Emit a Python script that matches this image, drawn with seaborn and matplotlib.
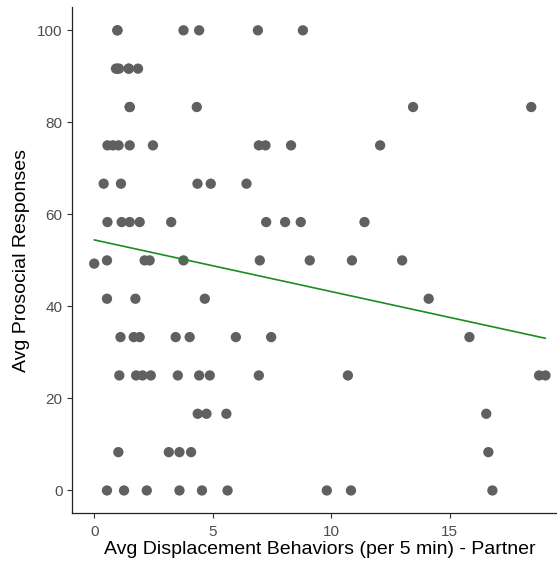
import matplotlib
matplotlib.use("Agg")
import matplotlib.pyplot as plt
import seaborn as sns
import pandas as pd
import numpy as np

# Avg displacement behaviours (x) and avg prosocial responses (y), read row by row
# (a few points sit exactly on top of others in the dense low-x clusters)
x_displacement = [
    0.98, 0.98, 3.77, 4.43, 6.91, 8.81,
    0.92, 0.98, 1.05, 1.46, 1.46, 1.85,
    1.50, 1.50, 4.33, 13.46, 18.45,
    0.56, 0.79, 1.03, 1.50, 2.48, 6.95, 7.23, 8.31, 12.07,
    0.40, 1.13, 4.36, 4.92, 6.43,
    0.56, 1.16, 1.50, 1.92, 3.25, 7.26, 8.06, 8.72, 11.41,
    0.54, 2.13, 2.34, 3.77, 6.99, 9.10, 10.88, 13.00, 0.00,
    0.54, 1.74, 4.67, 14.12,
    1.11, 1.67, 1.92, 3.44, 4.03, 5.98, 7.47, 15.84,
    1.06, 1.77, 2.04, 2.39, 3.53, 4.43, 4.88, 6.95, 10.71, 18.78, 19.05,
    4.37, 4.74, 5.58, 16.55,
    1.02, 3.15, 3.60, 4.09, 16.64,
    0.54, 1.26, 2.22, 3.60, 4.55, 5.63, 9.82, 10.84, 16.81,
]
y_prosocial = (
    [100.0] * 6
    + [91.67] * 6
    + [83.33] * 5
    + [75.0] * 9
    + [66.67] * 5
    + [58.33] * 9
    + [50.0] * 8 + [49.3]
    + [41.67] * 4
    + [33.33] * 8
    + [25.0] * 11
    + [16.67] * 4
    + [8.33] * 5
    + [0.0] * 9
)

x_ticks = [0, 5, 10, 15]
y_ticks = [0, 20, 40, 60, 80, 100]
x_label = "Avg Displacement Behaviors (per 5 min) - Partner"
y_label = "Avg Prosocial Responses"

df = pd.DataFrame({"x": x_displacement, "y": y_prosocial})

sns.set_theme(style="ticks")
plt.rcParams["font.family"] = ["Liberation Sans", "DejaVu Sans"]

fig = plt.figure(figsize=(5.57, 5.67), dpi=100)
ax = fig.add_axes([0.1287, 0.0944, 0.891, 0.8927])

sns.scatterplot(data=df, x="x", y="y", ax=ax, color="#606060", s=55,
                edgecolor="none", linewidth=0, zorder=3)
sns.regplot(data=df, x="x", y="y", ax=ax, scatter=False, ci=None,
            truncate=True, color="#1E8C1E", line_kws={"linewidth": 1.2, "zorder": 4})

ax.set_xlim(-0.95, 20.0)
ax.set_ylim(-5, 105)
ax.set_xticks(x_ticks)
ax.set_yticks(y_ticks)
ax.tick_params(axis="both", labelsize=11, colors="#333333", labelcolor="#4D4D4D",
               length=3.5, width=0.8, pad=3)
ax.tick_params(axis="x", pad=4.5)
for s in ["top", "right"]:
    ax.spines[s].set_visible(False)
for s in ["left", "bottom"]:
    ax.spines[s].set_color("#222222")
    ax.spines[s].set_linewidth(0.9)
ax.set_xlabel(x_label, fontsize=14, color="black", labelpad=2)
ax.set_ylabel(y_label, fontsize=14, color="black", labelpad=5)

fig.savefig("out.png", dpi=100)
